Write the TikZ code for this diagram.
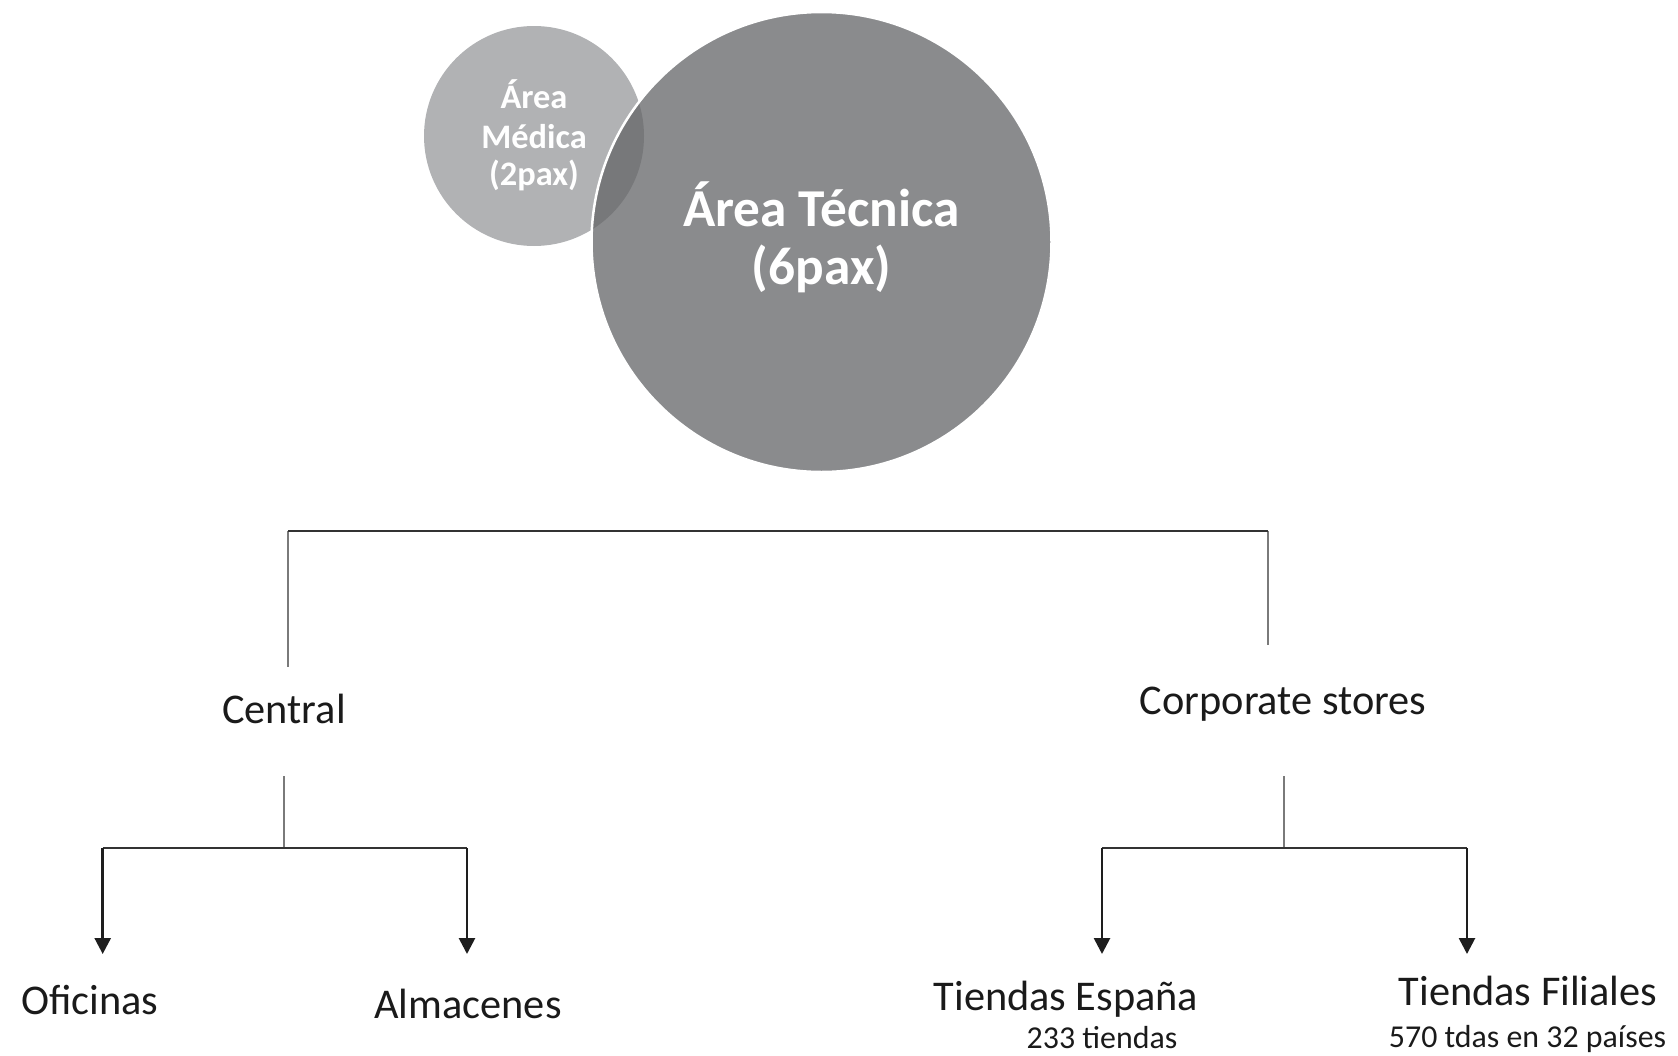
\documentclass[tikz,border=0pt]{standalone}
\usepackage{fontspec}
\setmainfont{Carlito}
\usetikzlibrary{arrows.meta}
\definecolor{smallc}{HTML}{B1B2B4}
\definecolor{bigc}{HTML}{8A8B8D}
\definecolor{overc}{HTML}{77787A}
\definecolor{txt}{HTML}{1A1A1A}
\definecolor{linegray}{HTML}{7A7A7A}
\definecolor{linedark}{HTML}{333333}
\definecolor{arrowc}{HTML}{1E1E1E}
\begin{document}
\begin{tikzpicture}[x=1bp,y=-1bp,
  lbl/.style={text=txt, font=\fontsize{42.5}{50}\selectfont, inner sep=0pt, anchor=base},
  sublbl/.style={text=txt, font=\fontsize{32}{38}\selectfont, inner sep=0pt, anchor=base},
  bigtxt/.style={text=white, font=\bfseries\fontsize{53.5}{58}\selectfont, inner sep=0pt, anchor=base},
  medtxt/.style={text=white, font=\bfseries\fontsize{34.5}{38}\selectfont, inner sep=0pt, anchor=base},
  vstub/.style={draw=linegray, line width=1.8bp},
  hbar/.style={draw=linedark, line width=1.6bp},
  arr/.style={draw=arrowc, line width=2.7bp, -{Triangle[width=16bp,length=16bp]}}]
\useasboundingbox (0,0) rectangle (1678,1055);
% circles
\fill[smallc] (534,136) circle (110);
\fill[bigc] (821.5,242) circle (230);
\begin{scope}
  \clip (534,136) circle (110);
  \fill[overc] (821.5,242) circle (230);
\end{scope}
\draw[white, line width=2.5bp] (821.5,242) circle (230);
% circle texts
\node[medtxt] (am1) at (534,108.5) {Área};
\node[medtxt] (am2) at (534,148) {Médica};
\node[medtxt] (am3) at (534,185) {(2pax)};
\node[bigtxt] (at1) at (821.5,226) {Área Técnica};
\node[bigtxt] (at2) at (821.5,284) {(6pax)};
% labels
\node[lbl] (central) at (284,723) {Central};
\node[lbl] (corp) at (1283,714) {Corporate stores};
\node[lbl] (ofi) at (90,1014.5) {Oficinas};
\node[lbl] (alm) at (468,1018) {Almacenes};
\node[lbl] (tesp) at (1066,1010) {Tiendas España};
\node[sublbl] (tesp2) at (1102,1048) {233 tiendas};
\node[lbl] (tfil) at (1528,1005) {Tiendas Filiales};
\node[sublbl] (tfil2) at (1527.5,1047) {570 tdas en 32 países};
% top bracket
\coordinate (tl) at (288,531);
\coordinate (tr) at (1268,531);
\coordinate (cenup) at (288,667);
\coordinate (corup) at (1268,645);
\draw[vstub] (tl) -- (cenup);
\draw[vstub] (tr) -- (corup);
\draw[hbar] (tl) -- (tr);
% central branch
\coordinate (cs1) at (284,776);
\coordinate (cs2) at (284,848);
\coordinate (ch1) at (102.7,848);
\coordinate (ch2) at (467,848);
\coordinate (ofitip) at (102.7,954);
\coordinate (almtip) at (467,954);
\draw[vstub] (cs1) -- (cs2);
\draw[hbar] (ch1) -- (ch2);
\draw[arr] (ch1) -- (ofitip);
\draw[arr] (ch2) -- (almtip);
% corporate branch
\coordinate (rs1) at (1284,776);
\coordinate (rs2) at (1284,848);
\coordinate (rh1) at (1102,848);
\coordinate (rh2) at (1467,848);
\coordinate (esptip) at (1102,954);
\coordinate (filtip) at (1467,954);
\draw[vstub] (rs1) -- (rs2);
\draw[hbar] (rh1) -- (rh2);
\draw[arr] (rh1) -- (esptip);
\draw[arr] (rh2) -- (filtip);
\end{tikzpicture}
\end{document}
